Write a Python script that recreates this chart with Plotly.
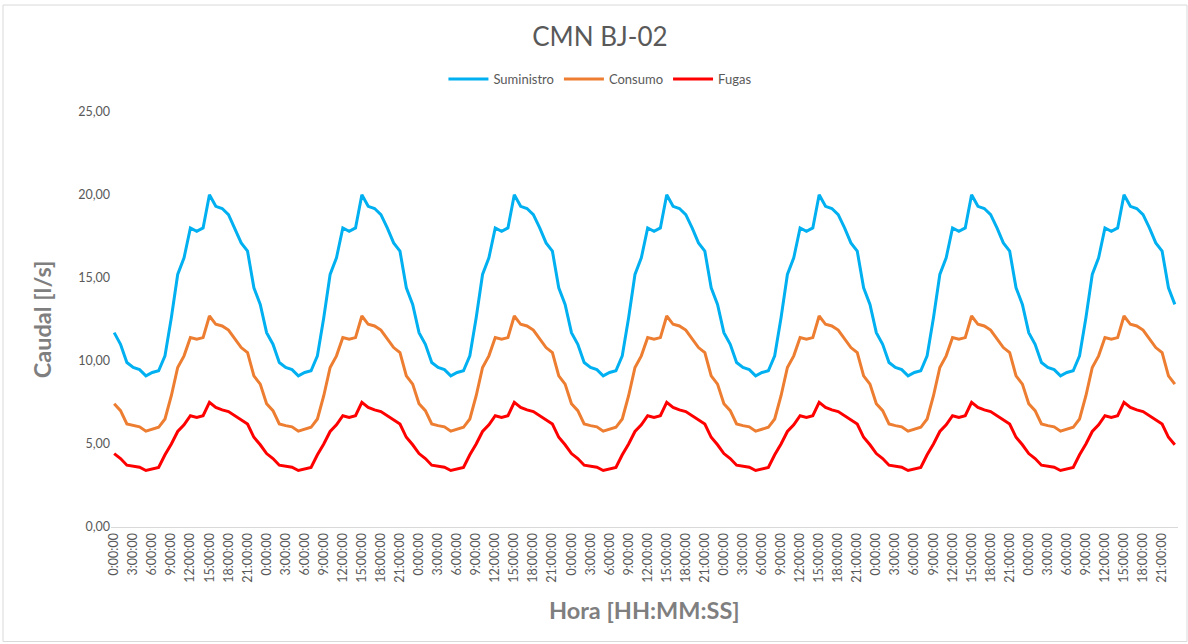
import plotly.graph_objects as go

# Daily hourly profiles (hours 0..23); the chart repeats the same day 7 times
hours_of_day = [f"{h}:00:00" for h in range(24)]
suministro_day = [11.7, 11.0, 9.9, 9.6, 9.47, 9.1, 9.3, 9.4, 10.3, 12.6, 15.2, 16.2,
                  18.0, 17.8, 18.0, 20.0, 19.3, 19.17, 18.8, 18.0, 17.1, 16.6, 14.4, 13.4]
consumo_day = [7.42, 7.0, 6.2, 6.1, 6.03, 5.77, 5.88, 6.0, 6.5, 7.9, 9.6, 10.3,
               11.4, 11.3, 11.4, 12.7, 12.2, 12.1, 11.85, 11.3, 10.8, 10.5, 9.1, 8.6]
fugas_day = [4.42, 4.12, 3.72, 3.65, 3.6, 3.4, 3.5, 3.58, 4.35, 5.0, 5.75, 6.15,
             6.7, 6.6, 6.7, 7.5, 7.2, 7.05, 6.95, 6.7, 6.45, 6.2, 5.4, 4.95]
n_days = 7

labels = hours_of_day * n_days
suministro = suministro_day * n_days
consumo = consumo_day * n_days
fugas = fugas_day * n_days
x = list(range(len(labels)))

tick_idx = [i for i in x if i % 3 == 0]
tick_text = [labels[i] for i in tick_idx]

FONT = "Lato, 'Open Sans', sans-serif"
GRAY = "#595959"

fig = go.Figure()
series = [("Suministro", suministro, "#00B0F0"),
          ("Consumo", consumo, "#ED7D31"),
          ("Fugas", fugas, "#FF0000")]
for name, vals, col in series:
    fig.add_trace(go.Scatter(x=x, y=vals, name=name, mode="lines",
                             line=dict(color=col, width=3)))

fig.update_layout(
    width=1188, height=644,
    paper_bgcolor="white", plot_bgcolor="white",
    separators=",.",
    font=dict(family=FONT, color=GRAY, size=12),
    margin=dict(l=111, r=10, t=110, b=117),
    title=dict(text="CMN BJ-02", x=0.505, xref="container", xanchor="center",
               y=1 - 37 / 644, yref="container", yanchor="middle",
               font=dict(size=26, color=GRAY, family=FONT)),
    legend=dict(orientation="h", x=0.505, xref="container", xanchor="center",
                y=1 - 79 / 644, yref="container", yanchor="middle",
                font=dict(size=13, color=GRAY), itemwidth=40,
                bgcolor="rgba(0,0,0,0)"),
    showlegend=True,
    xaxis=dict(range=[-0.5, len(x) - 0.5], tickvals=tick_idx, ticktext=tick_text,
               tickangle=-90, showgrid=False, zeroline=False,
               showline=True, linecolor="#D9D9D9", linewidth=1,
               ticks="", tickfont=dict(size=12.5, color=GRAY)),
    yaxis=dict(range=[0, 25], tickvals=[0, 5, 10, 15, 20, 25], tickformat=".2f",
               showgrid=False, zeroline=False, showline=False, ticks="",
               tickfont=dict(size=12.5, color=GRAY)),
    annotations=[
        dict(text="<b>Caudal [l/s]</b>", xref="paper", yref="paper",
             x=(42 - 111) / 1067, y=0.5, xanchor="center", yanchor="middle",
             textangle=-90, showarrow=False, font=dict(size=23.5, color="#7F7F7F")),
        dict(text="<b>Hora [HH:MM:SS]</b>", xref="paper", yref="paper",
             x=0.5, y=-(610 - 527) / 417, xanchor="center", yanchor="middle",
             showarrow=False, font=dict(size=23.5, color="#7F7F7F")),
    ],
    shapes=[
        dict(type="rect", xref="paper", yref="paper",
             x0=(3 - 111) / 1067, x1=(1187 - 111) / 1067,
             y0=-(642 - 527) / 417, y1=(527 - 3) / 417,
             line=dict(color="#D9D9D9", width=1), layer="below"),
    ],
)

fig.write_html("out.html",
               config={"displayModeBar": False},
               post_script="document.body.style.margin='0';document.body.style.padding='0';")
